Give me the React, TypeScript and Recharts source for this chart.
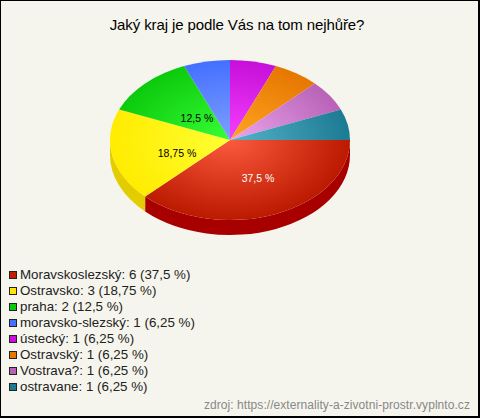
import { Legend, Pie, PieChart } from "recharts";

const categories = [
  "Moravskoslezský",
  "Ostravsko",
  "praha",
  "moravsko-slezský",
  "ústecký",
  "Ostravský",
  "Vostrava?",
  "ostravane",
];
const counts = [6, 3, 2, 1, 1, 1, 1, 1];
const percentLabels = ["37,5", "18,75", "12,5", "6,25", "6,25", "6,25", "6,25", "6,25"];

const topInner = ["#fb5a3e", "#ffff33", "#36ff36", "#7f9fff", "#f53fff", "#ffa522", "#eba6ec", "#55b4cb"];
const topOuter = ["#bb1a00", "#ffec00", "#0cc90c", "#4470ff", "#c60fd8", "#e67700", "#b862b8", "#1c7a92"];
const legendColors = ["#c41e00", "#ffe600", "#0cc90c", "#4470ff", "#c60fd8", "#e67700", "#b862b8", "#1c7a92"];
const wallColors = ["#a80000", "#e3cc00", "#0aa00a", "#3358cc", "#9e0cad", "#b85f00", "#934e93", "#166175"];

const data = categories.map((name, i) => ({ name, value: counts[i], index: i }));

const TILT = 2 / 3;
const DEPTH = 15;
// how far along the radius each printed label sits (x, y)
const labelReach: Record<number, [number, number]> = {
  0: [0.61, 0.5],
  1: [0.45, 0.77],
  2: [0.39, 0.41],
};

const RAD = Math.PI / 180;

function point(cx: number, cy: number, r: number, deg: number, yOff = 0) {
  return [cx + r * Math.cos(deg * RAD), cy - r * TILT * Math.sin(deg * RAD) + yOff];
}

function TopSlice(props: any) {
  const { cx, cy, outerRadius: r, startAngle, endAngle, index } = props;
  const [x0, y0] = point(cx, cy, r, startAngle);
  const [x1, y1] = point(cx, cy, r, endAngle);
  const large = Math.abs(endAngle - startAngle) > 180 ? 1 : 0;
  return (
    <path
      d={`M${cx},${cy} L${x0},${y0} A${r},${r * TILT} 0 ${large} 1 ${x1},${y1} Z`}
      fill={`url(#slice${index})`}
      stroke="none"
    />
  );
}

// side wall: only the front half of the ellipse is visible
function WallSlice(props: any) {
  const { cx, cy, outerRadius: r, startAngle, endAngle } = props;
  const from = Math.min(startAngle, 0);
  const to = Math.max(endAngle, -180);
  if (from <= to) return null;
  const [x0, y0] = point(cx, cy, r, from);
  const [x1, y1] = point(cx, cy, r, to);
  const ry = r * TILT;
  return (
    <path
      d={`M${x0},${y0} A${r},${ry} 0 0 1 ${x1},${y1} L${x1},${y1 + DEPTH} A${r},${ry} 0 0 0 ${x0},${y0 + DEPTH} Z`}
      fill={wallColors[props.index]}
      stroke="none"
    />
  );
}

function SliceLabel(props: any) {
  const { cx, cy, outerRadius: r, midAngle, index } = props;
  const reach = labelReach[index];
  if (!reach) return null;
  const x = cx + r * reach[0] * Math.cos(midAngle * RAD);
  const y = cy - r * TILT * reach[1] * Math.sin(midAngle * RAD) + 1;
  return (
    <text
      x={x}
      y={y}
      textAnchor="middle"
      dominantBaseline="central"
      fontSize={10.5}
      fontFamily="Liberation Sans"
      fill={index === 0 ? "#ffffff" : "#000000"}
    >
      {percentLabels[index]} %
    </text>
  );
}

function LegendList() {
  return (
    <div style={{ fontFamily: "Liberation Sans", fontSize: 13.33, lineHeight: "16px", color: "#222222" }}>
      {categories.map((name, i) => (
        <div key={name} style={{ display: "flex", alignItems: "center", whiteSpace: "nowrap" }}>
          <span
            style={{
              width: 6,
              height: 6,
              marginRight: 3,
              border: "1px solid #222222",
              background: legendColors[i],
              flex: "none",
            }}
          />
          {name}: {counts[i]} ({percentLabels[i]} %)
        </div>
      ))}
    </div>
  );
}

export default function App() {
  return (
    <div
      style={{
        position: "absolute",
        left: 0,
        top: 0,
        width: 480,
        height: 418,
        boxSizing: "border-box",
        background: "#f5f5ed",
        borderStyle: "solid",
        borderColor: "#000000",
        borderWidth: "1px 2px 2px 1px",
        overflow: "hidden",
      }}
    >
      <div
        style={{
          position: "absolute",
          left: -1,
          top: 15,
          width: 474,
          textAlign: "center",
          fontFamily: "Liberation Sans",
          fontSize: 15,
          letterSpacing: -0.1,
          color: "#000000",
        }}
      >
        Jaký kraj je podle Vás na tom nejhůře?
      </div>
      <div style={{ position: "absolute", left: -1, top: -1 }}>
        <PieChart width={480} height={418} margin={{ top: 0, right: 0, bottom: 0, left: 0 }}>
          <defs>
            {topInner.map((c, i) => (
              <radialGradient
                key={c}
                id={`slice${i}`}
                gradientUnits="userSpaceOnUse"
                cx={230}
                cy={140}
                r={120}
                gradientTransform={`translate(0 ${140 - 140 * TILT}) scale(1 ${TILT})`}
              >
                <stop offset="0%" stopColor={c} />
                <stop offset="100%" stopColor={topOuter[i]} />
              </radialGradient>
            ))}
          </defs>
          <Pie
            data={data}
            dataKey="value"
            nameKey="name"
            cx={230}
            cy={140}
            outerRadius={120}
            startAngle={0}
            endAngle={-360}
            stroke="none"
            legendType="none"
            shape={WallSlice}
            isAnimationActive={false}
          />
          <Pie
            data={data}
            dataKey="value"
            nameKey="name"
            cx={230}
            cy={140}
            outerRadius={120}
            startAngle={0}
            endAngle={-360}
            stroke="none"
            shape={TopSlice}
            label={SliceLabel}
            labelLine={false}
            isAnimationActive={false}
          />
          <Legend
            content={LegendList}
            wrapperStyle={{ position: "absolute", left: 9, top: 267, width: 300, bottom: "auto" }}
          />
        </PieChart>
      </div>
      <div
        style={{
          position: "absolute",
          right: 8,
          top: 397,
          fontFamily: "Liberation Sans",
          fontSize: 12,
          letterSpacing: 0.06,
          color: "#888888",
          whiteSpace: "nowrap",
        }}
      >
        zdroj: https://externality-a-zivotni-prostr.vyplnto.cz
      </div>
    </div>
  );
}
